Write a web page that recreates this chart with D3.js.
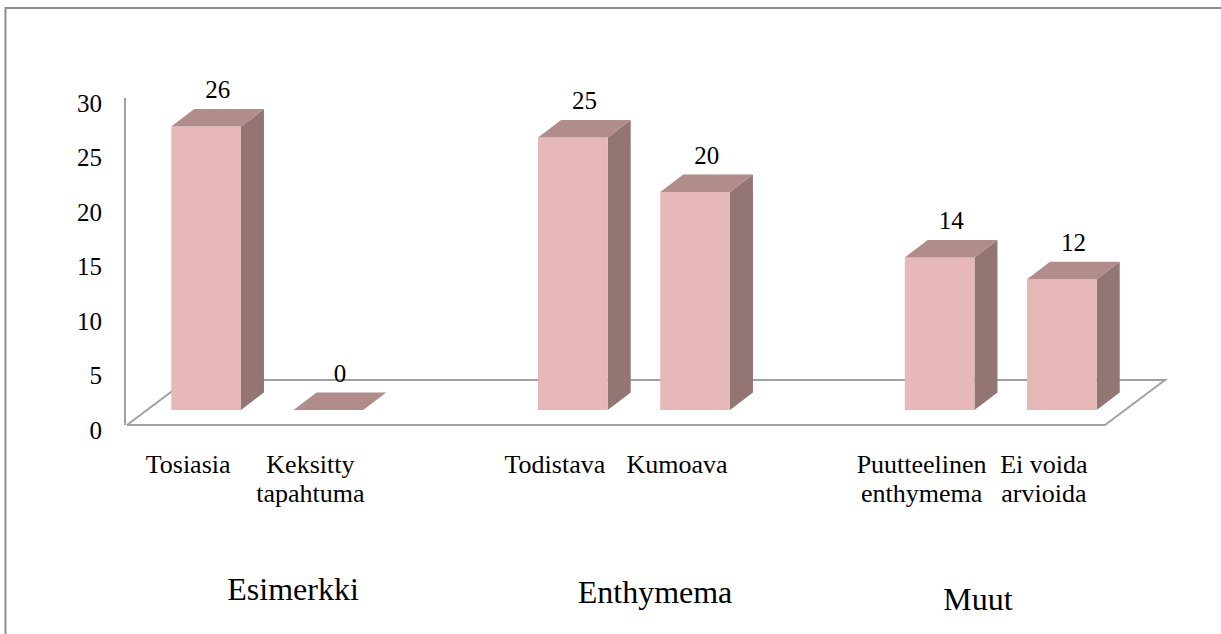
<!DOCTYPE html>
<html>
<head>
<meta charset="utf-8">
<script src="https://cdn.jsdelivr.net/npm/d3@7"></script>
<style>
    body { margin: 0; background: #fff; }
    svg text { font-family: 'Liberation Serif', 'Times New Roman', Times, serif; fill: #000; }
</style>
</head>
<body>
<svg id="chart"></svg>
<script>
// Chart data.
const categories = [
    ['Tosiasia'],
    ['Keksitty', 'tapahtuma'],
    ['Todistava'],
    ['Kumoava'],
    ['Puutteelinen', 'enthymema'],
    ['Ei voida', 'arvioida'],
];
const values = [26, 0, 25, 20, 14, 12];
const groups = ['Esimerkki', 'Enthymema', 'Muut'];
const groupOf = [0, 0, 1, 1, 2, 2];
const yTicks = [0, 5, 10, 15, 20, 25, 30];

// Layout constants.
const width = 1221;
const height = 634;
const floor = { left: 127, right: 1105, front: 425, back: 380, dx: 60 };
const bar = { ox: 18, oy: 15, dx: 23, dy: 17.5 };
const colors = { front: '#e6b8b7', top: '#b08c8a', side: '#937574', grid: '#a0a0a0', border: '#8c8c8c' };
const groupLabelPos = [
    { x: 293, y: 600 },
    { x: 655, y: 603 },
    { x: 978, y: 610 },
];

const svg = d3
    .select('#chart')
    .attr('width', width)
    .attr('height', height)
    .attr('font-family', "'Liberation Serif', 'Times New Roman', serif");

// One slot per bar plus an empty slot between groups.
const slotOf = values.map((v, i) => i + groupOf[i]);
const x = d3
    .scaleBand()
    .domain(d3.range(8))
    .range([floor.left, floor.right])
    .paddingInner(0.43)
    .paddingOuter(0.215);
const y = d3.scaleLinear().domain([0, 30]).range([floor.front, 98]);

// Outer border (only top and left visible in the picture).
svg.append('rect')
    .attr('x', 5.5)
    .attr('y', 8)
    .attr('width', width + 20)
    .attr('height', height + 20)
    .attr('fill', 'none')
    .attr('stroke', colors.border)
    .attr('stroke-width', 2);

// Floor.
svg.append('path')
    .attr(
        'd',
        d3.line()([
            [floor.left, floor.front],
            [floor.right, floor.front],
            [floor.right + floor.dx, floor.back],
            [floor.left + floor.dx, floor.back],
            [floor.left, floor.front],
        ])
    )
    .attr('fill', 'none')
    .attr('stroke', colors.grid)
    .attr('stroke-width', 2);

// Vertical axis line.
svg.append('line')
    .attr('x1', floor.left - 2)
    .attr('x2', floor.left - 2)
    .attr('y1', y(30))
    .attr('y2', y(0))
    .attr('stroke', colors.grid)
    .attr('stroke-width', 2);

svg.append('g')
    .selectAll('text')
    .data(yTicks)
    .enter()
    .append('text')
    .attr('x', 102)
    .attr('y', d => y(d) + 5)
    .attr('text-anchor', 'end')
    .attr('dominant-baseline', 'central')
    .attr('font-size', '25px')
    .text(d => d);

// 3D bars.
const bars = svg
    .append('g')
    .selectAll('g')
    .data(values.map((v, i) => ({ value: v, slot: slotOf[i] })))
    .enter()
    .append('g');

const bx = d => x(d.slot) + bar.ox;
const bTop = d => y(d.value) - bar.oy;
const bBase = y(0) - bar.oy;
const w = x.bandwidth();

bars.append('path')
    .attr('d', d =>
        d3.line()([
            [bx(d) + w, bTop(d)],
            [bx(d) + w + bar.dx, bTop(d) - bar.dy],
            [bx(d) + w + bar.dx, bBase - bar.dy],
            [bx(d) + w, bBase],
        ])
    )
    .attr('fill', colors.side);

bars.append('rect')
    .attr('x', bx)
    .attr('y', bTop)
    .attr('width', w)
    .attr('height', d => bBase - bTop(d))
    .attr('fill', colors.front);

bars.append('path')
    .attr('d', d =>
        d3.line()([
            [bx(d), bTop(d)],
            [bx(d) + bar.dx, bTop(d) - bar.dy],
            [bx(d) + w + bar.dx, bTop(d) - bar.dy],
            [bx(d) + w, bTop(d)],
        ])
    )
    .attr('fill', colors.top);

bars.append('text')
    .attr('x', d => bx(d) + w / 2 + bar.dx / 2)
    .attr('y', d => bTop(d) - bar.dy - 11)
    .attr('text-anchor', 'middle')
    .attr('font-size', '25px')
    .text(d => d.value);

// Category labels.
svg.append('g')
    .selectAll('text')
    .data(categories.map((c, i) => ({ lines: c, slot: slotOf[i] })))
    .enter()
    .append('text')
    .attr('text-anchor', 'middle')
    .attr('font-size', '26px')
    .each(function (d) {
        d3.select(this)
            .selectAll('tspan')
            .data(d.lines)
            .enter()
            .append('tspan')
            .attr('x', x(d.slot) + w / 2)
            .attr('y', (l, j) => 473 + j * 29)
            .text(l => l);
    });

// Group labels.
svg.append('g')
    .selectAll('text')
    .data(groups)
    .enter()
    .append('text')
    .attr('x', (d, i) => groupLabelPos[i].x)
    .attr('y', (d, i) => groupLabelPos[i].y)
    .attr('text-anchor', 'middle')
    .attr('font-size', '32px')
    .text(d => d);
</script>
</body>
</html>
